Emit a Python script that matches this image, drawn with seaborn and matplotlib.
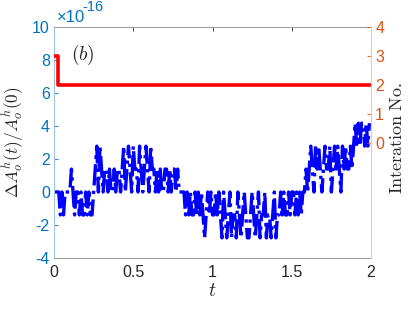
import numpy as np
import matplotlib
matplotlib.use("Agg")
import matplotlib.pyplot as plt
import seaborn as sns

# ---- data ----
dt = 0.01
q = 1.39  # quantisation step (x1e-16)
seg_a = [0, 0, 0, 0, -1, 0, -1, 0, 0, 0, 0, 1, 0]
seg_b = [-1, 0, 0, -1, 0, -1, -1, 0, -1, 0, -1, -1]
seg_c = [0, 1, 2, 0, 2, 1, 0, 1, 1, 0, 1, 0, 0, 1, 0, 1, 1, 0]
seg_d = [1, 2, 0, 1, 2, 1, 0, 2, 1, 1, 0, 2, 1, 0, 1, 2, 1, 0, 2, 1, 1, 0]
seg_e = [1, 0, 1, 0, 0, 1, 1, 0, 1, 0, 1, 1, 0, 1, 0, 0, 0, 0, -1, 0]
seg_f = [-1, 0, -1, -1, 0, -1, 0, -1, 0, -1, -2, -1, 0, -1, 0, -1, -1, 0, -1, 0]
seg_g = [-1, -2, 0, -1, -2, -1, 0, -2, -1, -1, -2, 0, -1, -2, -1, 0, -1, -2,
         -2, -1, 0, -1, -2, -1, 0, -2, -1, -1, 0, -2, -1]
seg_h = [-1, -2, -1, 0, -2, -1, -1]
seg_i = [0, -1, 0, -1, -1, 0, -1, 0, 0, -1, 0, -1, 0, -1, 0, 0, 1, 0]
seg_j = [1, 2, 1, 0, 2, 1, 2, 1, 0, 1, 2, 1, 1, 2, 0, 1, 2, 1, 2, 1, 0, 2,
         1, 2, 1, 1, 2, 1, 2]
seg_k = [3, 2, 3, 2, 3, 3, 2, 3, 2, 3]
levels = np.array(seg_a + seg_b + seg_c + seg_d + seg_e + seg_f + seg_g +
                  seg_h + seg_i + seg_j + seg_k, dtype=float)
t_area = np.arange(len(levels)) * dt
dA = levels * q  # in units of 1e-16

iter_t = [0.0, 0.025, 2.0]
iter_n = [3, 2, 2]

left_ticks = [-4, -2, 0, 2, 4, 6, 8, 10]
right_ticks = [0, 1, 2, 3, 4]
x_ticks = [0, 0.5, 1, 1.5, 2]
x_ticklabels = ["0", "0.5", "1", "1.5", "2"]

# ---- style ----
sns.set_style("white")
plt.rcParams["font.family"] = ["Liberation Sans", "DejaVu Sans"]
plt.rcParams["mathtext.fontset"] = "cm"

blue_ax = "#0072BD"
orange_ax = "#D95319"

fig = plt.figure(figsize=(4.15, 3.12), dpi=100)
ax = fig.add_axes([54 / 415, 54 / 312, 317 / 415, 231 / 312])

sns.lineplot(x=t_area, y=dA, ax=ax, color="#0000FF", linestyle="-.",
             linewidth=2.4, estimator=None, sort=False)
ax.set_xlim(0, 2)
ax.set_ylim(-4, 10)
ax.set_yticks(left_ticks)
ax.set_yticklabels([str(v) for v in left_ticks])
ax.set_xticks(x_ticks)
ax.set_xticklabels(x_ticklabels)
ax.tick_params(axis="x", direction="in", length=3, width=0.6, colors="#262626",
               labelsize=11.5, pad=5, top=True, labeltop=False)
ax.tick_params(axis="y", direction="in", length=3, width=0.6, colors=blue_ax,
               labelsize=11.5, pad=3)
for s in ["top", "bottom"]:
    ax.spines[s].set_color("#a0a0a0")
    ax.spines[s].set_linewidth(0.8)
ax.spines["left"].set_color("#9cc6e6")
ax.spines["left"].set_linewidth(0.8)
ax.spines["right"].set_visible(False)

ax.set_xlabel(r"$t$", fontsize=14, labelpad=2)
ax.set_ylabel(r"$\Delta A_o^h(t)/A_o^h(0)$", fontsize=12.5, labelpad=2)
ax.yaxis.set_label_coords(-0.088, 0.5)

ax.text(0.01, 1.008, "×10", transform=ax.transAxes, color=blue_ax,
        fontsize=12, ha="left", va="bottom")
ax.text(0.088, 1.055, "-16", transform=ax.transAxes, color=blue_ax,
        fontsize=10.5, ha="left", va="bottom")
ax.text(0.055, 0.88, r"$(b)$", transform=ax.transAxes, fontsize=14,
        ha="left", va="center")

ax2 = ax.twinx()
sns.lineplot(x=iter_t, y=iter_n, ax=ax2, color="#FF0000", linewidth=2.6,
             drawstyle="steps-post", estimator=None, sort=False)
ax2.set_ylim(-4, 4)
ax2.set_yticks(right_ticks)
ax2.set_yticklabels([str(v) for v in right_ticks])
ax2.tick_params(axis="y", direction="in", length=3, width=0.6,
                colors=orange_ax, labelsize=11.5, pad=3)
for s in ["top", "bottom", "left"]:
    ax2.spines[s].set_visible(False)
ax2.spines["right"].set_color("#f2c6b2")
ax2.spines["right"].set_linewidth(0.8)
ax2.set_ylabel(r"$\mathrm{Interation\ No.}$", fontsize=13, labelpad=4)
ax2.yaxis.set_label_coords(1.058, 0.52)

fig.savefig("out.png", dpi=100, facecolor="white")
